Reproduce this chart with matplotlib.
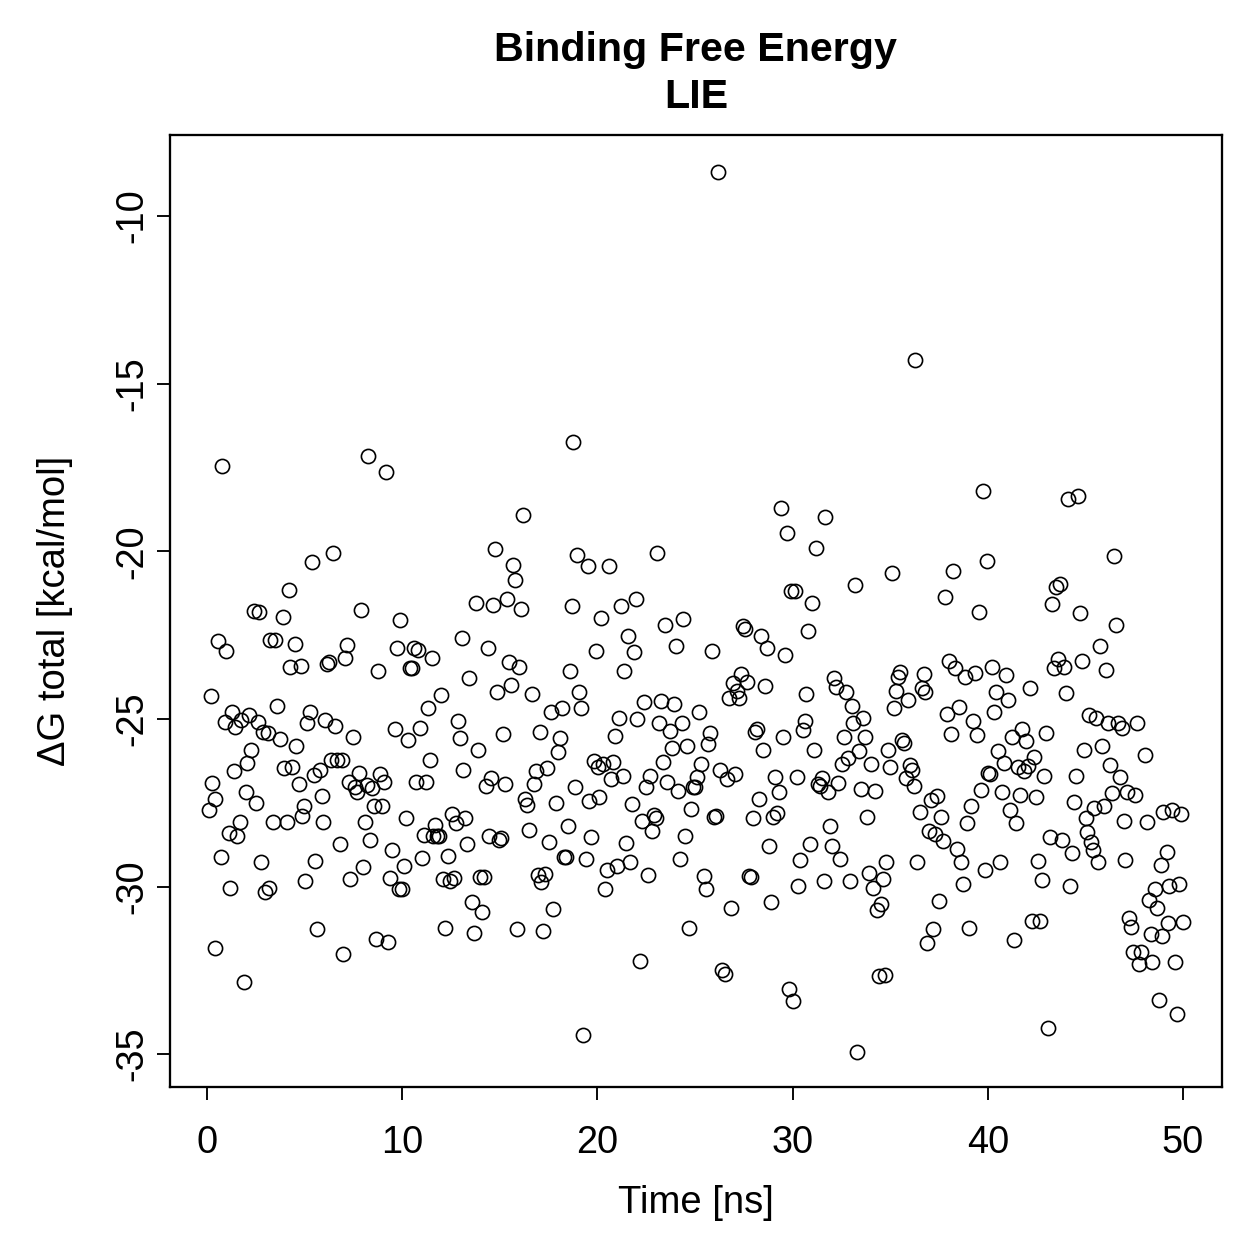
import matplotlib
matplotlib.use("Agg")
import matplotlib.pyplot as plt

# LIE binding free energy over simulation time
time_ns = [
    0.1, 0.2, 0.26, 0.4, 0.4, 0.56, 0.72, 0.77, 0.97, 0.92, 1.13, 1.18, 1.28, 1.38, 1.43, 1.54,
    1.69, 1.74, 1.9, 2.0, 2.05, 2.15, 2.25, 2.4, 2.5, 2.6, 2.66, 2.77, 2.87, 2.97, 3.1, 3.18,
    3.2, 3.38, 3.48, 3.6, 3.74, 3.9, 3.95, 4.1, 4.2, 4.25, 4.35, 4.5, 4.56, 4.7, 4.8, 4.87,
    4.97, 5.0, 5.12, 5.28, 5.38, 5.48, 5.53, 5.63, 5.79, 5.9, 5.94, 6.05, 6.15, 6.25, 6.35, 6.46,
    6.56, 6.66, 6.8, 6.9, 6.97, 7.07, 7.17, 7.27, 7.33, 7.48, 7.58, 7.68, 7.78, 7.9, 7.99, 8.09,
    8.2, 8.25, 8.35, 8.45, 8.55, 8.66, 8.76, 8.86, 8.97, 9.07, 9.17, 9.27, 9.38, 9.48, 9.63, 9.73,
    9.84, 9.89, 9.99, 10.1, 10.2, 10.3, 10.4, 10.5, 10.6, 10.7, 10.8, 10.9, 11.0, 11.1, 11.2, 11.3,
    11.4, 11.5, 11.6, 11.7, 11.8, 11.9, 12.0, 12.1, 12.2, 12.35, 12.45, 12.55, 12.65, 12.75, 12.85, 12.95,
    13.06, 13.1, 13.2, 13.3, 13.4, 13.57, 13.67, 13.78, 13.88, 13.98, 14.09, 14.19, 14.29, 14.4, 14.45, 14.55,
    14.65, 14.75, 14.86, 14.96, 15.06, 15.16, 15.27, 15.37, 15.47, 15.57, 15.68, 15.78, 15.88, 15.98, 16.09, 16.19,
    16.29, 16.39, 16.5, 16.65, 16.75, 16.85, 16.96, 17.06, 17.11, 17.21, 17.32, 17.42, 17.52, 17.62, 17.73, 17.88,
    17.98, 18.08, 18.19, 18.29, 18.39, 18.49, 18.6, 18.7, 18.75, 18.85, 18.96, 19.06, 19.16, 19.26, 19.42, 19.52,
    19.57, 19.67, 19.83, 19.93, 20.03, 20.08, 20.18, 20.29, 20.39, 20.49, 20.59, 20.7, 20.8, 20.9, 21.0, 21.1,
    21.21, 21.31, 21.36, 21.47, 21.57, 21.67, 21.77, 21.88, 21.98, 22.03, 22.18, 22.28, 22.39, 22.49, 22.59, 22.7,
    22.8, 22.9, 23.0, 23.05, 23.16, 23.26, 23.36, 23.47, 23.57, 23.72, 23.82, 23.92, 24.03, 24.13, 24.23, 24.33,
    24.38, 24.49, 24.59, 24.69, 24.8, 24.9, 25.0, 25.1, 25.2, 25.31, 25.46, 25.56, 25.67, 25.77, 25.87, 25.97,
    26.08, 26.18, 26.28, 26.38, 26.54, 26.64, 26.74, 26.84, 26.95, 27.05, 27.15, 27.25, 27.36, 27.46, 27.56, 27.66,
    27.77, 27.87, 27.97, 28.07, 28.17, 28.28, 28.38, 28.48, 28.58, 28.69, 28.79, 28.89, 28.99, 29.1, 29.2, 29.3,
    29.41, 29.51, 29.61, 29.72, 29.82, 29.92, 30.02, 30.12, 30.23, 30.28, 30.38, 30.53, 30.64, 30.69, 30.79, 30.89,
    30.99, 31.1, 31.2, 31.3, 31.4, 31.51, 31.61, 31.66, 31.81, 31.92, 32.02, 32.12, 32.22, 32.32, 32.43, 32.53,
    32.63, 32.73, 32.84, 32.94, 33.04, 33.09, 33.2, 33.3, 33.4, 33.5, 33.61, 33.71, 33.81, 33.91, 34.02, 34.12,
    34.22, 34.32, 34.43, 34.53, 34.63, 34.73, 34.78, 34.89, 34.99, 35.09, 35.19, 35.3, 35.4, 35.5, 35.6, 35.71,
    35.81, 35.91, 36.01, 36.12, 36.22, 36.27, 36.37, 36.53, 36.63, 36.73, 36.78, 36.89, 36.99, 37.09, 37.2, 37.3,
    37.4, 37.5, 37.6, 37.7, 37.81, 37.91, 38.01, 38.12, 38.22, 38.32, 38.42, 38.52, 38.63, 38.73, 38.83, 38.93,
    39.04, 39.14, 39.24, 39.34, 39.45, 39.55, 39.65, 39.75, 39.86, 39.96, 40.0, 40.1, 40.21, 40.32, 40.42, 40.52,
    40.62, 40.73, 40.83, 40.93, 41.03, 41.14, 41.24, 41.34, 41.44, 41.55, 41.65, 41.75, 41.85, 41.96, 42.06, 42.16,
    42.26, 42.37, 42.47, 42.57, 42.67, 42.78, 42.88, 42.98, 43.08, 43.19, 43.29, 43.39, 43.49, 43.6, 43.7, 43.8,
    43.9, 44.01, 44.11, 44.21, 44.31, 44.42, 44.52, 44.62, 44.72, 44.83, 44.93, 45.03, 45.08, 45.18, 45.29, 45.39,
    45.44, 45.54, 45.65, 45.75, 45.85, 45.95, 46.06, 46.16, 46.26, 46.36, 46.47, 46.57, 46.67, 46.77, 46.88, 46.98,
    47.03, 47.13, 47.24, 47.34, 47.44, 47.54, 47.64, 47.75, 47.85, 48.06, 48.16, 48.26, 48.36, 48.41, 48.57, 48.67,
    48.77, 48.87, 48.92, 48.97, 49.18, 49.23, 49.28, 49.44, 49.59, 49.69, 49.8, 49.9, 50.0,
]
dg_total = [
    -27.72, -24.32, -26.9, -31.84, -27.4, -22.68, -29.12, -17.46, -22.98, -25.1, -28.4, -30.05, -24.8, -26.56, -25.24, -28.5,
    -28.08, -25.04, -32.85, -27.19, -26.32, -24.89, -25.93, -21.78, -27.5, -25.1, -21.8, -29.27, -25.4, -30.17, -25.42, -30.05,
    -22.65, -28.08, -22.65, -24.6, -25.6, -21.97, -26.47, -28.08, -21.16, -23.45, -26.44, -22.77, -25.8, -26.93, -23.43, -27.9,
    -27.6, -29.84, -25.13, -24.8, -20.32, -26.68, -29.24, -31.27, -26.53, -27.3, -28.08, -25.04, -23.37, -23.3, -26.23, -20.05,
    -25.21, -26.23, -28.74, -26.23, -32.02, -23.19, -22.8, -26.88, -29.78, -25.54, -27.03, -27.18, -26.62, -21.75, -29.42, -28.08,
    -26.97, -17.16, -28.6, -27.06, -27.6, -31.57, -23.57, -26.65, -27.6, -26.88, -17.64, -31.66, -29.75, -28.91, -25.3, -22.89,
    -30.08, -22.05, -30.08, -29.39, -27.96, -25.63, -23.48, -23.48, -22.89, -26.88, -22.95, -25.27, -29.15, -28.46, -26.88, -24.68,
    -26.23, -23.19, -28.5, -28.17, -28.5, -28.5, -24.29, -29.78, -31.24, -29.09, -29.84, -27.84, -29.75, -28.1, -25.07, -25.57,
    -22.59, -26.53, -27.96, -28.74, -23.78, -30.47, -31.39, -21.55, -25.93, -29.72, -30.76, -29.72, -27.0, -22.89, -28.5, -26.77,
    -21.6, -19.93, -24.2, -28.6, -28.55, -25.45, -26.94, -21.43, -23.3, -23.99, -20.41, -20.86, -31.27, -23.45, -21.72, -18.92,
    -27.4, -27.57, -28.3, -24.26, -26.94, -26.56, -29.66, -25.39, -29.87, -31.33, -29.63, -26.47, -28.67, -24.8, -30.67, -27.5,
    -25.99, -25.57, -24.68, -29.12, -29.12, -28.2, -23.57, -21.63, -16.74, -27.03, -20.11, -24.2, -24.68, -34.43, -29.18, -20.44,
    -27.44, -28.53, -26.26, -22.98, -26.44, -27.33, -21.99, -26.35, -30.08, -29.51, -20.44, -26.8, -26.29, -25.51, -29.39, -24.98,
    -21.63, -26.71, -23.57, -28.7, -22.53, -29.27, -27.54, -23.01, -21.43, -25.01, -32.23, -28.05, -24.5, -27.03, -29.66, -26.71,
    -28.35, -27.87, -27.96, -20.05, -25.13, -24.47, -26.29, -22.2, -26.88, -25.36, -25.87, -24.56, -22.83, -27.15, -29.18, -25.13,
    -22.02, -28.5, -25.81, -31.24, -27.69, -27.03, -27.03, -26.74, -24.8, -26.35, -29.69, -30.08, -25.75, -25.42, -22.98, -27.93,
    -27.9, -8.69, -26.53, -32.49, -32.61, -26.8, -24.38, -30.64, -23.93, -26.65, -24.17, -24.38, -23.66, -22.23, -22.32, -23.9,
    -29.69, -29.72, -27.96, -25.39, -25.3, -27.39, -22.53, -25.93, -24.02, -22.89, -28.8, -30.47, -27.93, -26.74, -27.81, -27.18,
    -18.71, -25.54, -23.1, -19.46, -33.06, -21.19, -33.42, -21.19, -26.74, -29.99, -29.21, -25.33, -25.07, -24.26, -22.38, -28.74,
    -21.55, -25.93, -19.9, -26.94, -27.0, -26.77, -29.84, -18.98, -27.18, -28.2, -28.8, -23.78, -24.05, -26.9, -29.18, -26.35,
    -25.54, -24.2, -26.17, -29.84, -24.62, -25.13, -21.01, -34.94, -25.96, -27.09, -24.98, -25.54, -27.93, -29.6, -26.35, -30.05,
    -27.15, -30.7, -32.67, -30.53, -29.78, -32.64, -29.27, -25.93, -26.44, -20.65, -24.68, -24.17, -23.75, -23.6, -25.63, -25.72,
    -26.77, -24.44, -26.38, -26.53, -27.0, -14.3, -29.27, -27.78, -24.08, -23.66, -24.2, -31.69, -28.35, -27.42, -31.27, -28.44,
    -27.3, -30.44, -27.93, -28.65, -21.37, -24.86, -23.28, -25.45, -20.59, -23.48, -28.88, -24.65, -29.27, -29.93, -23.75, -28.1,
    -31.24, -27.6, -25.07, -23.63, -25.48, -21.81, -27.12, -18.2, -29.51, -20.29, -26.62, -26.65, -23.45, -24.8, -24.2, -25.96,
    -29.27, -27.18, -26.32, -23.69, -24.44, -27.72, -25.54, -31.6, -28.1, -26.44, -27.27, -25.3, -26.56, -25.66, -26.41, -24.08,
    -31.03, -26.14, -27.33, -29.24, -31.03, -29.81, -26.71, -25.42, -34.22, -28.53, -21.58, -23.48, -21.07, -23.22, -20.98, -28.6,
    -23.45, -24.23, -18.44, -29.99, -29.0, -27.48, -26.71, -18.35, -21.84, -23.28, -25.93, -27.96, -28.38, -24.89, -28.67, -28.91,
    -27.66, -24.98, -29.27, -22.83, -25.8, -27.6, -23.54, -25.13, -26.38, -27.21, -20.14, -22.2, -25.13, -26.74, -25.27, -28.05,
    -29.21, -27.18, -30.94, -31.21, -31.96, -27.27, -25.13, -32.32, -31.96, -26.08, -28.08, -30.41, -31.42, -32.26, -30.08, -30.64,
    -33.39, -29.36, -31.48, -27.78, -28.97, -31.09, -29.99, -27.72, -32.26, -33.81, -29.93, -27.84, -31.06,
]

x_ticks = [0, 10, 20, 30, 40, 50]
y_ticks = [-10, -15, -20, -25, -30, -35]

plt.rcParams["font.family"] = ["Liberation Sans", "DejaVu Sans"]

W = H = 1259
fig = plt.figure(figsize=(W / 300, H / 300), dpi=300)
ax = fig.add_axes([170 / W, 1 - 1087 / H, 1052 / W, 952 / H])

ax.plot(time_ns, dg_total, linestyle="none", marker="o", markersize=3.4,
        markerfacecolor="none", markeredgecolor="black", markeredgewidth=0.4)

ax.set_xlim(-1.9, 52.0)
ax.set_ylim(-35.98, -7.58)
ax.set_xticks(x_ticks)
ax.set_yticks(y_ticks)
ax.set_yticklabels([str(v) for v in y_ticks], rotation=90, va="center")

for s in ax.spines.values():
    s.set_linewidth(0.55)
ax.tick_params(direction="out", length=3.2, width=0.45, labelsize=9.1)
ax.tick_params(axis="x", pad=6)
ax.tick_params(axis="y", pad=1.5)

# axis labels placed like R's mtext lines
fig.text(696 / W, 1 - 1203 / H, "Time [ns]", fontsize=9.2, ha="center", va="center")
fig.text(55 / W, 1 - 611 / H, "ΔG total [kcal/mol]", fontsize=9.2,
         ha="center", va="center", rotation=90)
ax.set_title("Binding Free Energy\nLIE", fontsize=9.9, fontweight="bold",
             linespacing=1.3, pad=6.4)

fig.savefig("out.png", dpi=300)
